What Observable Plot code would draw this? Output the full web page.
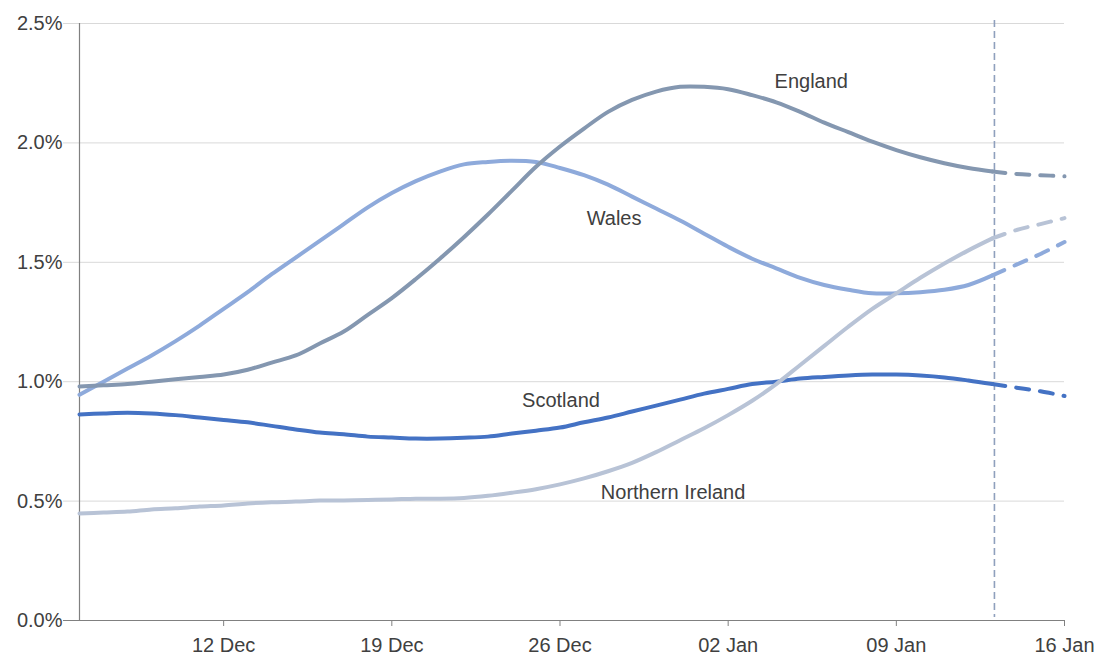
<!DOCTYPE html>
<html>
<head>
<meta charset="utf-8">
<script src="https://cdn.jsdelivr.net/npm/d3@7"></script>
<script src="https://cdn.jsdelivr.net/npm/@observablehq/plot@0.6"></script>
<style>
  html, body { margin: 0; padding: 0; background: #fff; }
  #chart svg { display: block; }
</style>
</head>
<body>
<div id="chart"></div>
<script>
// Daily dates, 6 Dec 2021 to 16 Jan 2022 (x categories)
const startDate = new Date(Date.UTC(2021, 11, 6));
const endDate = new Date(Date.UTC(2022, 0, 16));
const dates = d3.utcDay.range(startDate, d3.utcDay.offset(endDate, 1));
const projectionStart = new Date(Date.UTC(2022, 0, 13));

// Percentage of population testing positive (%)
const england = [0.98,0.985,0.99,1.00,1.01,1.02,1.03,1.05,1.08,1.11,1.16,1.21,1.28,1.35,1.43,1.515,1.605,1.70,1.80,1.90,1.985,2.06,2.13,2.18,2.215,2.235,
                 2.235,2.225,2.20,2.17,2.13,2.085,2.045,2.005,1.97,1.94,1.915,1.895,1.88,1.87,1.865,1.86];
const wales = [0.945,1.00,1.055,1.11,1.17,1.235,1.305,1.375,1.45,1.52,1.59,1.66,1.73,1.79,1.84,1.88,1.91,1.92,1.925,1.92,1.895,1.865,1.825,1.775,1.725,1.675,
               1.62,1.565,1.515,1.475,1.435,1.405,1.385,1.37,1.37,1.375,1.385,1.405,1.445,1.49,1.535,1.585];
const scotland = [0.863,0.867,0.87,0.867,0.86,0.85,0.84,0.83,0.815,0.80,0.787,0.78,0.77,0.766,0.762,0.762,0.765,0.77,0.783,0.795,0.808,0.83,0.85,0.875,0.90,0.925,
                  0.95,0.97,0.99,1.00,1.013,1.02,1.026,1.03,1.03,1.026,1.018,1.005,0.99,0.975,0.96,0.94];
const northernIreland = [0.448,0.452,0.456,0.465,0.47,0.477,0.482,0.49,0.495,0.498,0.502,0.503,0.505,0.507,0.51,0.51,0.513,0.522,0.535,0.55,0.57,0.595,0.625,0.66,0.705,0.755,
                         0.805,0.86,0.92,0.99,1.07,1.15,1.23,1.305,1.37,1.435,1.495,1.55,1.60,1.635,1.66,1.685];

const regionNames = ["Wales", "Scotland", "England", "Northern Ireland"];
const regionColors = ["#8eaadb", "#4472c4", "#8497b0", "#b8c3d6"];
const regionValues = [wales, scotland, england, northernIreland];

// Tick labels
const yTicks = [0, 0.5, 1.0, 1.5, 2.0, 2.5];
const xTicks = [
  new Date(Date.UTC(2021, 11, 12)), new Date(Date.UTC(2021, 11, 19)), new Date(Date.UTC(2021, 11, 26)),
  new Date(Date.UTC(2022, 0, 2)), new Date(Date.UTC(2022, 0, 9)), new Date(Date.UTC(2022, 0, 16))
];

// Direct labels (anchor positions in data space)
const labelTexts = ["England", "Wales", "Scotland", "Northern Ireland"];
const labelDates = [
  new Date("2022-01-05T11:00:00Z"), new Date("2021-12-28T06:00:00Z"),
  new Date("2021-12-26T01:00:00Z"), new Date("2021-12-30T17:00:00Z")
];
const labelValues = [2.257, 1.683, 0.921, 0.536];

const projIndex = dates.findIndex(d => +d === +projectionStart);

const lineMarks = [];
regionNames.forEach((name, i) => {
  const rows = dates.map((d, j) => ({date: d, value: regionValues[i][j]}));
  lineMarks.push(Plot.line(rows.slice(0, projIndex + 1), {
    x: "date", y: "value", stroke: regionColors[i], strokeWidth: 4, curve: "catmull-rom",
    strokeLinecap: "round", strokeLinejoin: "round"
  }));
  lineMarks.push(Plot.line(rows.slice(projIndex), {
    x: "date", y: "value", stroke: regionColors[i], strokeWidth: 4, curve: "catmull-rom",
    strokeDasharray: "13,11", strokeLinecap: "round"
  }));
});

const labels = labelTexts.map((t, i) => ({text: t, date: labelDates[i], value: labelValues[i]}));

const chart = Plot.plot({
  width: 1118,
  height: 671,
  marginLeft: 79,
  marginRight: 54,
  marginTop: 23,
  marginBottom: 51,
  x: {type: "utc", domain: [startDate, endDate]},
  y: {domain: [0, 2.5]},
  style: {
    fontFamily: "'Liberation Sans', Arial, sans-serif",
    fontSize: "20px",
    color: "#404040",
    background: "#ffffff",
    overflow: "visible"
  },
  marks: [
    Plot.ruleY(yTicks.filter(d => d > 0), {stroke: "#d9d9d9", strokeWidth: 1, insetLeft: -16}),
    Plot.ruleX([projectionStart], {stroke: "#8fa0bd", strokeWidth: 1.6, strokeDasharray: "7,4", insetTop: -3, insetBottom: 3, dx: 2}),
    Plot.ruleY([0], {stroke: "#808080", strokeWidth: 1.2, insetLeft: -16}),
    Plot.ruleX([startDate], {stroke: "#808080", strokeWidth: 1.2}),
    Plot.axisY({ticks: yTicks, tickSize: 0, tickPadding: 17, tickFormat: d => d.toFixed(1) + "%", label: null, fill: "#404040", fontSize: 20}),
    Plot.axisX({ticks: xTicks, tickSize: 6, tickPadding: 11, tickFormat: d3.utcFormat("%d %b"), label: null, stroke: "#808080", fill: "#404040", fontSize: 20}),
    ...lineMarks,
    Plot.text(labels, {x: "date", y: "value", text: "text", fill: "#404040", fontSize: 20, textAnchor: "middle"})
  ]
});

document.getElementById("chart").appendChild(chart);
</script>
</body>
</html>
